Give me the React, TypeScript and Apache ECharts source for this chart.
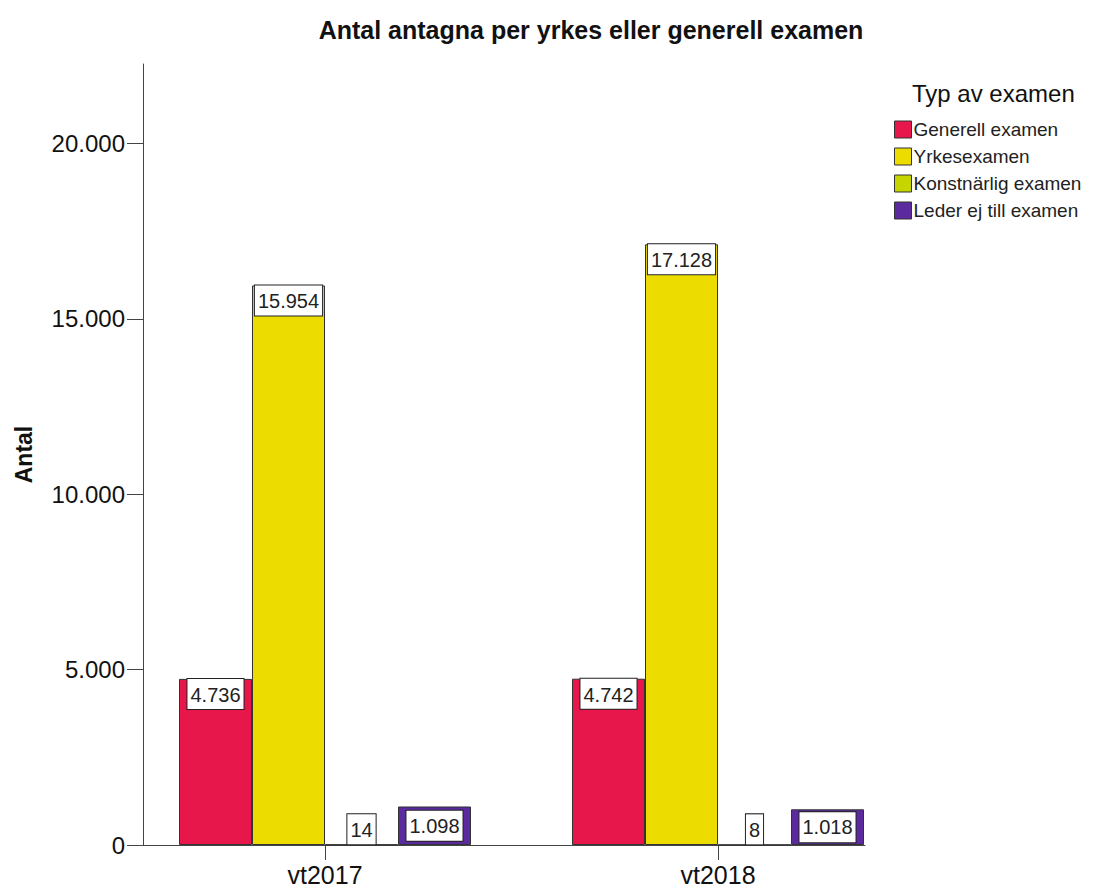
import React, { useEffect, useRef } from "react";
import * as echarts from "echarts";

const categories = ["vt2017", "vt2018"];
const seriesNames = ["Generell examen", "Yrkesexamen", "Konstnärlig examen", "Leder ej till examen"];
const generell = [4736, 4742];
const yrkes = [15954, 17128];
const konst = [14, 8];
const ledere = [1098, 1018];
const yTicks = [0, 5000, 10000, 15000, 20000];

const colors = ["#E8174B", "#EDDC00", "#C6D400", "#5B2A9E"];
const FONT = "Liberation Sans, Arial, sans-serif";
const Y_MAX = 22270;

function fmt(v: number): string {
  const s = String(Math.round(v));
  return s.replace(/\B(?=(\d{3})+(?!\d))/g, ".");
}

export default function App() {
  const ref = useRef<HTMLDivElement>(null);
  useEffect(() => {
    if (!ref.current) return;
    const chart = echarts.init(ref.current, null, { renderer: "svg" });
    const labelBase = {
      show: true,
      formatter: (p: any) => fmt(p.value),
      fontFamily: FONT,
      fontSize: 20,
      lineHeight: 24,
      color: "#222",
      backgroundColor: "#fff",
      borderColor: "#222",
      borderWidth: 1,
      padding: [4, 3, 2, 3],
      position: "insideTop",
      distance: 0,
    };
    const mk = (name: string, values: number[], idx: number, pos: string[]) => ({
      name,
      type: "bar",
      xAxisIndex: 1,
      yAxisIndex: 1,
      barWidth: 73,
      barGap: "0%",
      itemStyle: { color: colors[idx], borderColor: "#333", borderWidth: 1 },
      data: values.map((v, i) => ({
        value: v,
        label: { position: pos[i] },
      })),
      label: labelBase,
    });
    chart.setOption({
      animation: false,
      backgroundColor: "#fff",
      title: [
        {
          text: "Antal antagna per yrkes eller generell examen",
          left: 586,
          textAlign: "center",
          top: 12,
          textStyle: { fontFamily: FONT, fontSize: 25, fontWeight: "bold", color: "#111" },
        },
        {
          text: "Typ av examen",
          left: 907,
          top: 76,
          textStyle: { fontFamily: FONT, fontSize: 24, fontWeight: "normal", color: "#111" },
        },
      ],
      legend: {
        orient: "vertical",
        left: 889,
        top: 115,
        itemWidth: 17,
        itemHeight: 17,
        itemGap: 8,
        icon: "rect",
        data: seriesNames,
        textStyle: { fontFamily: FONT, fontSize: 19, color: "#222", padding: [0, 0, 0, -3] },
        itemStyle: { borderColor: "#333", borderWidth: 1 },
      },
      grid: [
        { left: 143, top: 64, right: 229, bottom: 48, containLabel: false },
        { left: 128.5, top: 64, width: 786, bottom: 48, containLabel: false },
      ],
      xAxis: [
        {
          gridIndex: 0,
          type: "value",
          min: 0,
          max: 1,
          axisLine: { show: true, lineStyle: { color: "#444", width: 1 } },
          axisTick: { show: false },
          axisLabel: { show: false },
          splitLine: { show: false },
        },
        {
          gridIndex: 1,
          type: "category",
          data: categories,
          axisLine: { show: false },
          axisTick: { show: true, alignWithLabel: true, length: 15, lineStyle: { color: "#444" } },
          axisLabel: { fontFamily: FONT, fontSize: 25, lineHeight: 25, color: "#111", margin: 17 },
          splitLine: { show: false },
        },
      ],
      yAxis: [
        {
          gridIndex: 0,
          type: "value",
          min: 0,
          max: Y_MAX,
          interval: 5000,
          name: "Antal",
          nameLocation: "middle",
          nameGap: 108,
          nameTextStyle: { fontFamily: FONT, fontSize: 23, fontWeight: "bold", color: "#111" },
          axisLine: { show: true, lineStyle: { color: "#444", width: 1 } },
          axisTick: { show: true, length: 16, lineStyle: { color: "#444" } },
          axisLabel: {
            fontFamily: FONT,
            fontSize: 24,
            color: "#111",
            margin: 18,
            showMaxLabel: false,
            formatter: (v: number) => (yTicks.includes(v) ? fmt(v) : ""),
          },
          splitLine: { show: false },
        },
        {
          gridIndex: 1,
          type: "value",
          min: 0,
          max: Y_MAX,
          show: false,
          splitLine: { show: false },
        },
      ],
      series: [
        mk(seriesNames[0], generell, 0, ["insideTop", "insideTop"]),
        mk(seriesNames[1], yrkes, 1, ["insideTop", "insideTop"]),
        mk(seriesNames[2], konst, 2, ["top", "top"]),
        mk(seriesNames[3], ledere, 3, ["inside", "inside"]),
      ],
    });
    return () => chart.dispose();
  }, []);
  return <div ref={ref} style={{ width: 1094, height: 893, margin: -8 }} />;
}
